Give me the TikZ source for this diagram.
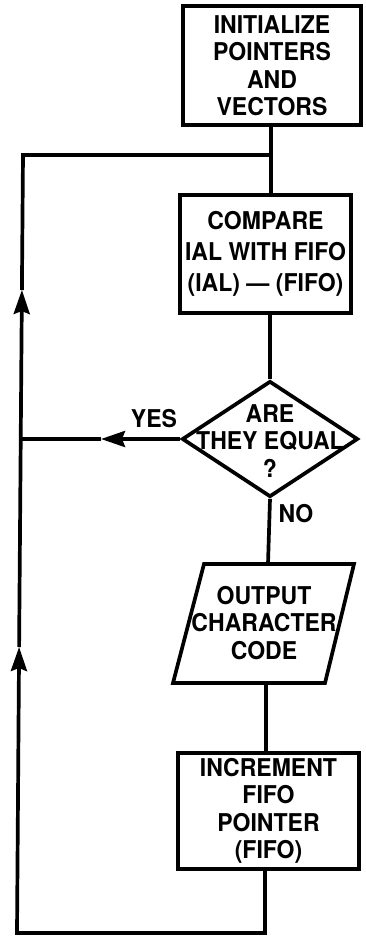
\documentclass[tikz,border=0pt]{standalone}
\usepackage{fontspec}
\setmainfont[FakeStretch=0.94]{TeX Gyre Heros}
\usetikzlibrary{arrows.meta,shapes.geometric}
\begin{document}
\begin{tikzpicture}[x=1pt,y=-1pt,
  ln/.style={line width=3.7pt},
  lbl/.style={inner sep=0pt,align=center,font=\fontsize{24.5}{27.5}\selectfont\bfseries},
  box/.style={draw,ln,rectangle,inner sep=0pt,align=center,font=\fontsize{24.5}{27.5}\selectfont\bfseries},
  tip/.style={-{Stealth[length=24pt,width=16pt,inset=3pt]}}]
\useasboundingbox (0,0) rectangle (366,946);
% nodes
\node[box,minimum width=178pt,minimum height=119pt] (init) at (272,65.5) {INITIALIZE\\POINTERS\\AND\\VECTORS};
\node[box,minimum width=171pt,minimum height=118pt,font=\fontsize{24.5}{31}\selectfont\bfseries] (cmp) at (265.5,254) {COMPARE\\IAL WITH FIFO\\(IAL) — (FIFO)};
\node[draw,ln,diamond,minimum width=176pt,minimum height=116pt,inner sep=0pt] (eq) at (270,439) {};
\node[lbl] (eqt) at (270,441) {ARE\\THEY EQUAL\\?};
\draw[ln] (204,564) -- (354,564) -- (325,683) -- (173,683) -- cycle;
\node[lbl] (out) at (264,623) {OUTPUT\\CHARACTER\\CODE};
\coordinate (outN) at (268,564);
\coordinate (outS) at (266,683);
\node[box,minimum width=181pt,minimum height=116pt] (inc) at (268.5,811) {INCREMENT\\FIFO\\POINTER\\(FIFO)};
\node[lbl] (yes) at (154,419) {YES};
\node[lbl] (no) at (296,514) {NO};
% loop coordinates
\coordinate (J1) at (271,155);
\coordinate (BR) at (265,933);
\coordinate (BL) at (17,933);
\coordinate (A2) at (19.1,647);
\coordinate (Y) at (20.8,439);
\coordinate (A1) at (21.9,290);
\coordinate (TL) at (23,155);
\coordinate (AY) at (101,439);
% connectors
\draw[ln] (J1 |- init.south) -- (J1) -- (J1 |- cmp.north);
\draw[ln] (eq.north |- cmp.south) -- (eq.north);
\draw[ln] (eq.south) -- (outN);
\draw[ln] (outS) -- (outS |- inc.north);
\draw[ln,tip] (BR |- inc.south) -- (BR) -- (BL) -- (A2);
\draw[ln,tip] (A2) -- (A1);
\draw[ln] (A1) -- (TL) -- (J1);
\draw[ln,tip] (eq.west) -- (AY);
\draw[ln] (AY) -- (Y);
\end{tikzpicture}
\end{document}
